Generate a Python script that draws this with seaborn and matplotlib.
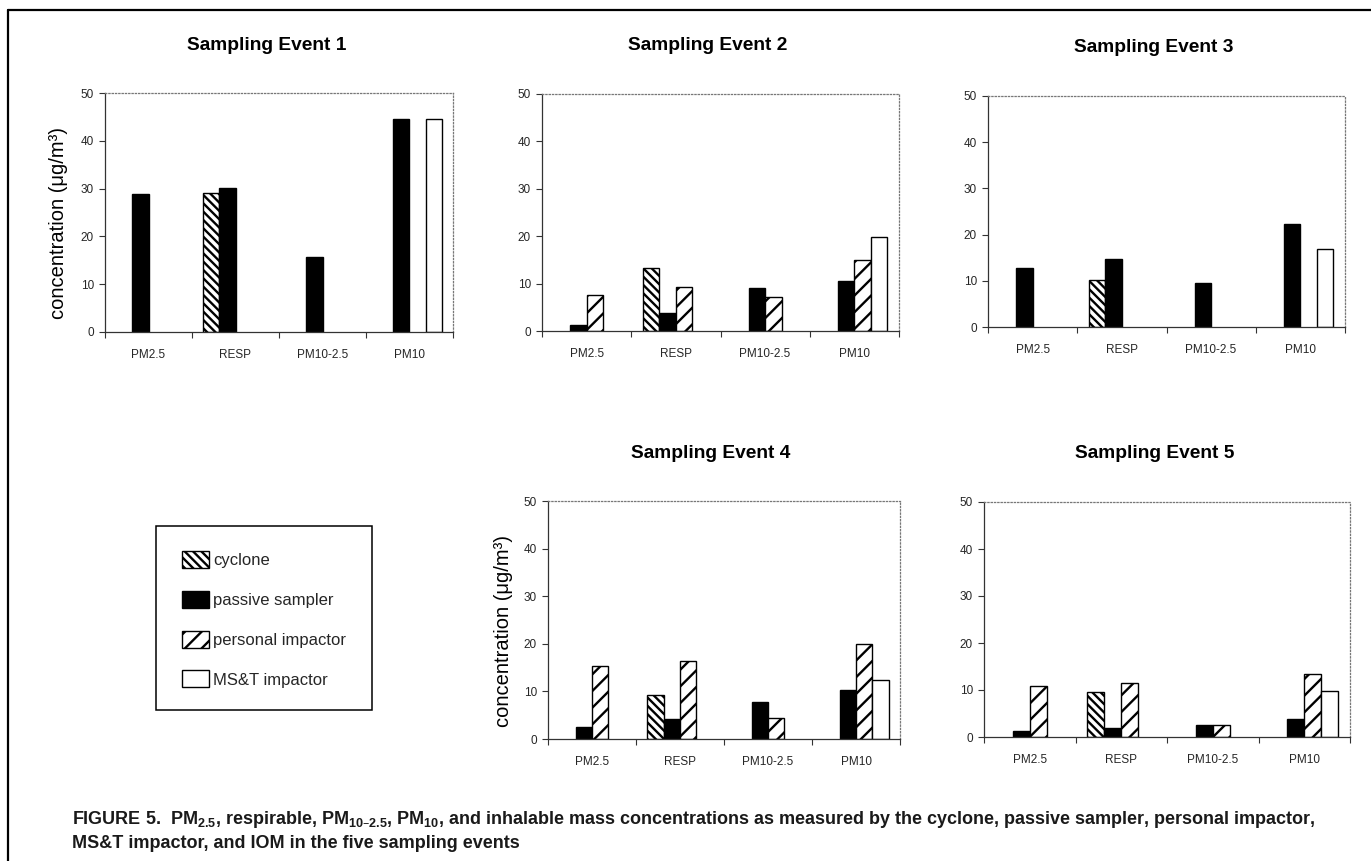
import numpy as np
import pandas as pd
import matplotlib
matplotlib.use("Agg")
import matplotlib.pyplot as plt
import seaborn as sns
from matplotlib.patches import Patch, Rectangle
from matplotlib.lines import Line2D
from matplotlib import font_manager as fm

# ---------------- data ----------------
categories = ["PM2.5", "RESP", "PM10-2.5", "PM10"]
samplers = ["cyclone", "passive sampler", "personal impactor", "MS&T impactor"]
titles = ["Sampling Event 1", "Sampling Event 2", "Sampling Event 3",
          "Sampling Event 4", "Sampling Event 5"]

nan = np.nan
# values per sampler, in category order (nan = not measured)
event1_cyclone = [nan, 29.0, nan, nan]
event1_passive = [28.8, 30.1, 15.6, 44.5]
event1_personal = [nan, nan, nan, nan]
event1_mst = [nan, nan, nan, 44.5]

event2_cyclone = [nan, 13.2, nan, nan]
event2_passive = [1.3, 3.7, 9.1, 10.5]
event2_personal = [7.7, 9.3, 7.2, 14.9]
event2_mst = [nan, nan, nan, 19.9]

event3_cyclone = [nan, 10.1, nan, nan]
event3_passive = [12.7, 14.7, 9.5, 22.3]
event3_personal = [nan, nan, nan, nan]
event3_mst = [nan, nan, nan, 16.9]

event4_cyclone = [nan, 9.2, nan, nan]
event4_passive = [2.5, 4.1, 7.8, 10.3]
event4_personal = [15.3, 16.4, 4.5, 19.9]
event4_mst = [nan, nan, nan, 12.4]

event5_cyclone = [nan, 9.6, nan, nan]
event5_passive = [1.2, 1.9, 2.6, 3.8]
event5_personal = [10.8, 11.5, 2.6, 13.5]
event5_mst = [nan, nan, nan, 9.7]

events = [
    (event1_cyclone, event1_passive, event1_personal, event1_mst),
    (event2_cyclone, event2_passive, event2_personal, event2_mst),
    (event3_cyclone, event3_passive, event3_personal, event3_mst),
    (event4_cyclone, event4_passive, event4_personal, event4_mst),
    (event5_cyclone, event5_passive, event5_personal, event5_mst),
]

yticks = [0, 10, 20, 30, 40, 50]
ylabel = "concentration (\u03bcg/m\u00b3)"
caption1 = ("FIGURE 5.  PM$_{2.5}$, respirable, PM$_{10\u20132.5}$, PM$_{10}$, and inhalable mass "
            "concentrations as measured by the cyclone, passive sampler, personal impactor,")
caption2 = "MS&T impactor, and IOM in the five sampling events"

# ---------------- style ----------------
sns.set_theme(style="white")
plt.rcParams["font.family"] = ["Liberation Sans", "DejaVu Sans"]
plt.rcParams["hatch.linewidth"] = 1.7
plt.rcParams["mathtext.default"] = "regular"

face = {"cyclone": "white", "passive sampler": "black",
        "personal impactor": "white", "MS&T impactor": "white"}
hatches = ["\\\\\\\\", "", "//", ""]

W, H = 1371, 861
fig = plt.figure(figsize=(W / 100, H / 100), dpi=100)


def px_axes(left, top, right, bottom):
    return [left / W, 1 - bottom / H, (right - left) / W, (bottom - top) / H]


boxes = [
    (105, 93, 453, 332),
    (542, 94, 899, 331),
    (988, 96, 1345, 327),
    (548, 501, 900, 739),
    (984, 502, 1350, 737),
]
title_pos = [(267, 46), (708, 46), (1154, 47), (711, 453), (1155, 453)]
bar_width = 0.74

for i, (vals, box) in enumerate(zip(events, boxes)):
    ax = fig.add_axes(px_axes(*box))
    rows = []
    for s, series in zip(samplers, vals):
        for c, v in zip(categories, series):
            if not np.isnan(v):
                rows.append({"size": c, "sampler": s, "conc": v})
    df = pd.DataFrame(rows)
    sns.barplot(data=df, x="size", y="conc", hue="sampler", hue_order=samplers,
                order=categories, palette=face, width=bar_width, dodge=True,
                edgecolor="black", linewidth=1.0, saturation=1, legend=False,
                errorbar=None, ax=ax)
    slot_w = bar_width / len(samplers)
    for p in ax.patches:
        xc = p.get_x() + p.get_width() / 2
        off = xc - round(xc)
        slot = int(np.clip(np.floor((off + bar_width / 2) / slot_w), 0, 3))
        p.set_hatch(hatches[slot])
        p.set_edgecolor("black")

    ax.set_xlim(-0.5, 3.5)
    ax.set_ylim(0, 50)
    ax.set_yticks(yticks)
    ax.set_yticklabels([str(t) for t in yticks], fontsize=8.5)
    ax.set_xticks([-0.5, 0.5, 1.5, 2.5, 3.5])
    ax.set_xticklabels([])
    ax.set_xticks(range(len(categories)), minor=True)
    ax.set_xticklabels(categories, minor=True, fontsize=8.5)
    ax.tick_params(axis="x", which="major", direction="out", length=4, width=0.8,
                   color="#333333", bottom=True)
    ax.tick_params(axis="x", which="minor", length=0, pad=12)
    ax.tick_params(axis="y", direction="out", length=4, width=0.8,
                   color="#333333", left=True, pad=4)
    ax.set_xlabel("")
    for side in ["left", "bottom"]:
        ax.spines[side].set_color("#333333")
        ax.spines[side].set_linewidth(0.9)
    for side in ["top", "right"]:
        ax.spines[side].set_color("#777777")
        ax.spines[side].set_linewidth(0.9)
        ax.spines[side].set_linestyle(":")
    if i in (0, 3):
        ax.set_ylabel(ylabel, fontsize=14.5, color="black")
        ax.yaxis.set_label_coords(-0.105 if i == 0 else -0.1, 0.455)
    else:
        ax.set_ylabel("")
    tx, ty = title_pos[i]
    fig.text(tx / W, 1 - ty / H, titles[i], ha="center", va="center",
             fontsize=13.8, fontweight="bold", color="black")

# legend
handles = [Patch(facecolor=face[s], edgecolor="black", hatch=h, linewidth=1.0)
           for s, h in zip(samplers, hatches)]
leg = fig.legend(handles, samplers, loc="upper left",
                 bbox_to_anchor=(174 / W, 1 - 543 / H), frameon=False,
                 fontsize=12, handlelength=1.6, handleheight=1.2,
                 handletextpad=0.25, labelspacing=1.35, borderpad=0)
fig.add_artist(Rectangle((156 / W, 1 - 710 / H), (372 - 156) / W, (710 - 526) / H,
                         transform=fig.transFigure, fill=False,
                         edgecolor="black", linewidth=1.1))

# figure frame (left and top edges)
fig.add_artist(Line2D([8 / W, 8 / W], [0, 1 - 10 / H], transform=fig.transFigure,
                      color="black", linewidth=1.6))
fig.add_artist(Line2D([8 / W, 1], [1 - 10 / H, 1 - 10 / H], transform=fig.transFigure,
                      color="black", linewidth=1.6))

# caption
narrow = any(f.name == "Liberation Sans Narrow" for f in fm.fontManager.ttflist)
cap_family = ["Liberation Sans Narrow", "DejaVu Sans"] if narrow else ["Liberation Sans", "DejaVu Sans"]
fig.text(72 / W, 1 - 820 / H, caption1, ha="left", va="center", fontsize=13,
         fontweight="bold", family=cap_family, color="#1a1a1a")
fig.text(72 / W, 1 - 843 / H, caption2, ha="left", va="center", fontsize=13,
         fontweight="bold", family=cap_family, color="#1a1a1a")

fig.savefig("out.png", dpi=100, facecolor="white")
